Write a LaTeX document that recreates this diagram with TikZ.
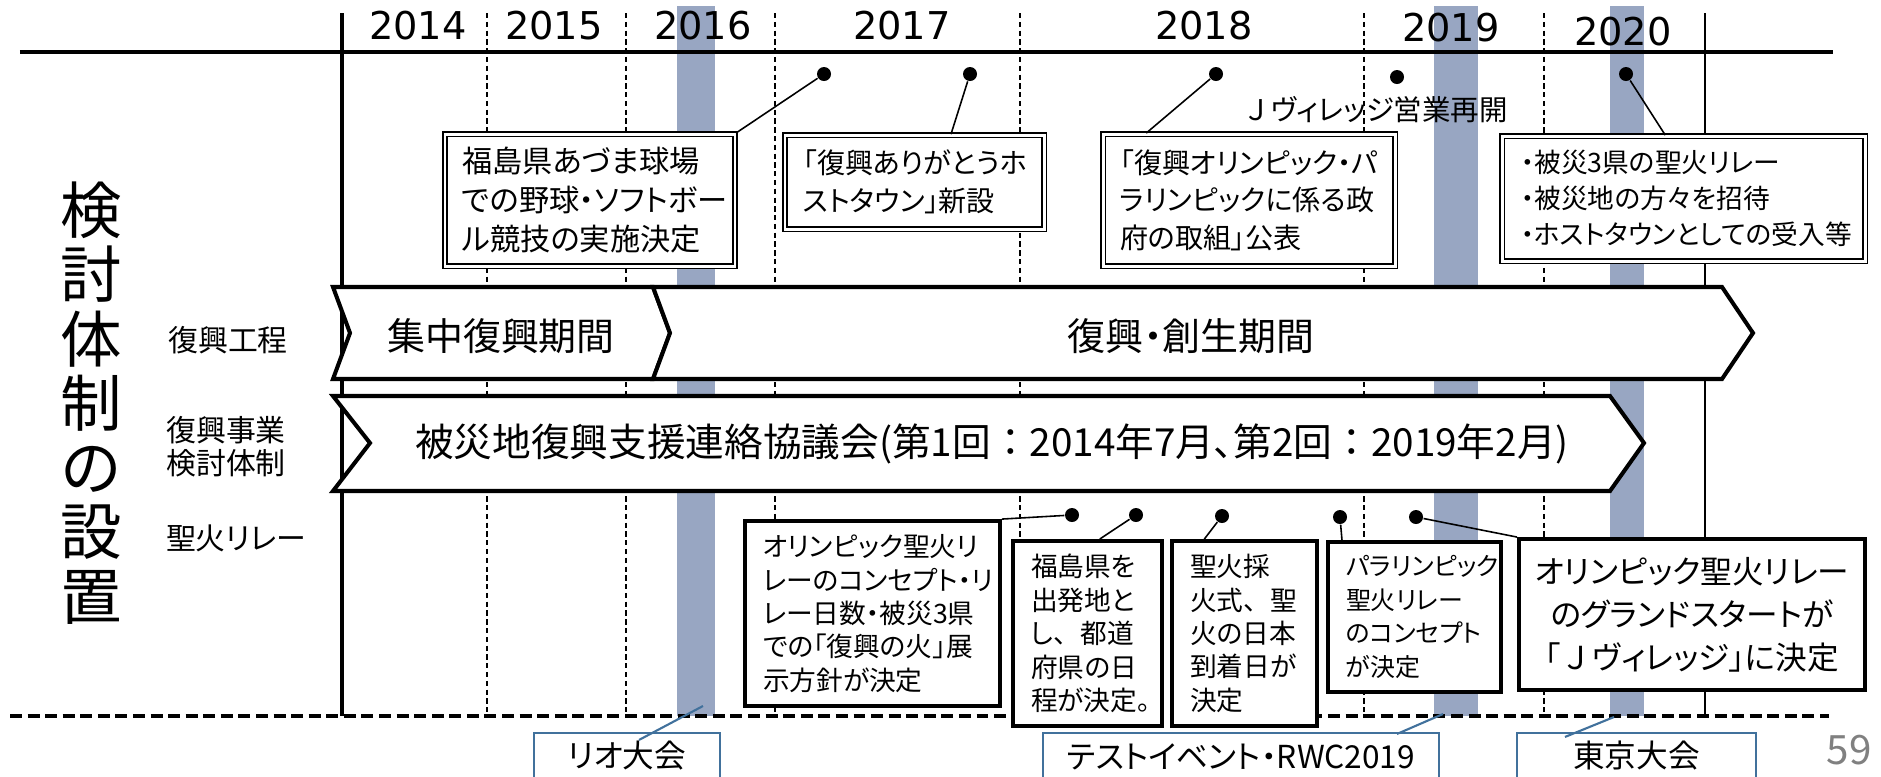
\documentclass[tikz,border=0pt]{standalone}
\usepackage{fontspec}
\setmainfont{Noto Sans CJK JP}[RawFeature=+palt]
\newfontfamily\fullw{Noto Sans CJK JP}
\newfontfamily\yearfont{DejaVu Sans}
\usepackage{tikz}
\usepackage{xcolor}
\usetikzlibrary{positioning, calc}
\definecolor{barblue}{RGB}{152,166,194}
\definecolor{evblue}{RGB}{65,113,156}

\begin{document}
\begin{tikzpicture}[
    dbox/.style={rectangle, draw=black, double, double distance=0.85pt, line width=0.5pt, fill=white, align=left, inner sep=0pt, font=\fontsize{8pt}{10.7pt}\selectfont},
    sbox/.style={rectangle, draw=black, line width=1.1pt, fill=white, align=left, inner sep=0pt, font=\fontsize{7.6pt}{9.5pt}\selectfont},
    ebox/.style={rectangle, draw=evblue, line width=0.6pt, fill=white, inner sep=0pt, font=\fontsize{9pt}{11pt}\selectfont},
    dot/.style={circle, fill=black, inner sep=0pt, minimum size=0.14cm},
    link/.style={line width=0.45pt},
    elink/.style={draw=evblue, line width=0.6pt},
    year/.style={font=\yearfont\fontsize{10.9pt}{13pt}\selectfont},
    period/.style={font=\fontsize{10.8pt}{12pt}\selectfont},
    rowlabel/.style={align=center, font=\fontsize{8.5pt}{9.4pt}\selectfont},
    chevron/.style={line width=1.15pt, fill=white, line join=miter},
    yearline/.style={line width=0.4pt, dash pattern=on 1.5pt off 1pt}
]
\useasboundingbox (0,0) rectangle (18.81,-7.76);
% olympic years
\fill [barblue] (6.77,-0.06) rectangle (7.15,-7.16);
\fill [barblue] (14.34,-0.06) rectangle (14.78,-7.16);
\fill [barblue] (16.10,-0.06) rectangle (16.44,-7.16);
% time axis
\draw [line width=1.3pt] (0.20,-0.52) -- (18.33,-0.52);
\draw [line width=0.9pt] (3.42,-0.13) -- (3.42,-7.16);
\draw [line width=0.4pt] (17.05,-0.13) -- (17.05,-7.16);
\draw [yearline] (4.87,-0.13) -- (4.87,-7.16);
\draw [yearline] (6.26,-0.13) -- (6.26,-7.16);
\draw [yearline] (7.75,-0.13) -- (7.75,-7.16);
\draw [yearline] (10.20,-0.13) -- (10.20,-7.16);
\draw [yearline] (13.64,-0.13) -- (13.64,-7.16);
\draw [yearline] (15.44,-0.13) -- (15.44,-7.16);
\draw [line width=1.2pt, dash pattern=on 3.4pt off 1.6pt] (0.10,-7.16) -- (18.29,-7.16);
\node (y14) [year] at (4.18,-0.26) {2014};
\node (y15) [year] at (5.54,-0.26) {2015};
\node (y16) [year] at (7.03,-0.26) {2016};
\node (y17) [year] at (9.02,-0.26) {2017};
\node (y18) [year] at (12.04,-0.26) {2018};
\node (y19) [year] at (14.51,-0.28) {2019};
\node (y20) [year] at (16.23,-0.32) {2020};
% row titles
\node (title) [align=center, font=\fontsize{17.5pt}{18.3pt}\selectfont] at (0.91,-4.03) {検\\討\\体\\制\\の\\設\\置};
\node (row1) [rowlabel] at (2.28,-3.40) {復興工程};
\node (row2) [rowlabel] at (2.26,-4.47) {復興事業\\検討体制};
\node (row3) [rowlabel] at (2.36,-5.38) {聖火リレー};
% periods
\draw [chevron] (3.33,-2.87) -- (6.53,-2.87) -- (6.70,-3.33) -- (6.53,-3.79) -- (3.33,-3.79) -- (3.50,-3.33) -- cycle;
\draw [chevron] (6.53,-2.87) -- (17.22,-2.87) -- (17.53,-3.33) -- (17.22,-3.79) -- (6.53,-3.79) -- (6.70,-3.33) -- cycle;
\draw [chevron] (3.33,-3.96) -- (16.10,-3.96) -- (16.44,-4.43) -- (16.10,-4.91) -- (3.33,-4.91) -- (3.70,-4.43) -- cycle;
\node (p1) [period] at (5.01,-3.36) {集中復興期間};
\node (p2) [period] at (11.91,-3.36) {復興・創生期間};
\node (p3) [period, font=\fontsize{11pt}{12pt}\selectfont] at (9.92,-4.44) {被災地復興支援連絡協議会(第1回{\fullw ：}2014年7月、第2回{\fullw ：}2019年2月)};
% upper events
\node (t1) [dbox, font=\fontsize{8.6pt}{11pt}\selectfont, minimum width=2.90cm, minimum height=1.32cm, text width=2.56cm] at (5.90,-2.00) {福島県あづま球場\\での野球・ソフトボー\\ル競技の実施決定};
\node (t2) [dbox, minimum width=2.59cm, minimum height=0.94cm, text width=2.23cm] at (9.145,-1.82) {「復興ありがとうホ\\ストタウン」新設};
\node (t3) [dbox, minimum width=2.92cm, minimum height=1.32cm, text width=2.58cm] at (12.49,-2.00) {「復興オリンピック・パ\\ラリンピックに係る政\\府の取組」公表};
\node (t4) [dbox, font=\fontsize{7.6pt}{10.2pt}\selectfont, minimum width=3.63cm, minimum height=1.25cm, text width=3.25cm] at (16.835,-1.985) {・被災3県の聖火リレー\\・被災地の方々を招待\\・ホストタウンとしての受入等};
\node (d1) [dot] at (8.24,-0.74) {};
\node (d2) [dot] at (9.70,-0.74) {};
\node (d3) [dot] at (12.16,-0.74) {};
\node (d4) [dot] at (13.97,-0.77) {};
\node (d5) [dot] at (16.26,-0.74) {};
\node (jv) [font=\fontsize{8.1pt}{10pt}\selectfont] at (13.75,-1.10) {{\fullw Ｊ}ヴィレッジ営業再開};
\draw [link] (d1) -- (t1.north east);
\draw [link] (d2) -- ($(t2.north west)!0.64!(t2.north east)$);
\draw [link] (d3) -- ($(t3.north west)!0.15!(t3.north east)$);
\draw [link] (d5) -- ($(t4.north west)!0.45!(t4.north east)$);
% torch relay
\node (r1) [sbox, minimum width=2.55cm, minimum height=1.85cm, text width=2.19cm] at (8.725,-6.135) {オリンピック聖火リ\\レーのコンセプト・リ\\レー日数・被災3県\\での「復興の火」展\\示方針が決定};
\node (r2) [sbox, minimum width=1.49cm, minimum height=1.85cm, text width=1.13cm] at (10.875,-6.335) {福島県を\\出発地と\\し{\fullw 、}都道\\府県の日\\程が決定。};
\node (r3) [sbox, minimum width=1.45cm, minimum height=1.85cm, text width=1.09cm] at (12.445,-6.335) {聖火採\\火式{\fullw 、}聖\\火の日本\\到着日が\\決定};
\node (r4) [sbox, font=\fontsize{7.1pt}{9.5pt}\selectfont, minimum width=1.73cm, minimum height=1.50cm, text width=1.37cm] at (14.145,-6.17) {パラリンピック\\聖火リレー\\のコンセプト\\が決定};
\node (r5) [sbox, align=center, minimum width=3.46cm, minimum height=1.51cm, font=\fontsize{9pt}{12.2pt}\selectfont] at (16.92,-6.145) {オリンピック聖火リレー\\のグランドスタートが\\「{\fullw Ｊ}ヴィレッジ」に決定};
\node (e1) [dot] at (10.72,-5.15) {};
\node (e2) [dot] at (11.36,-5.15) {};
\node (e3) [dot] at (12.22,-5.16) {};
\node (e4) [dot] at (13.40,-5.17) {};
\node (e5) [dot] at (14.16,-5.17) {};
\draw [link] (e1) -- (r1.north east);
\draw [link] (e2) -- ($(r2.north west)!0.58!(r2.north east)$);
\draw [link] (e3) -- ($(r3.north west)!0.23!(r3.north east)$);
\draw [link] (e4) -- ($(r4.north west)!0.09!(r4.north east)$);
\draw [link] (e5) -- (r5.north west);
% games
\node (rio) [ebox, minimum width=1.86cm, minimum height=0.46cm] at (6.27,-7.56) {リオ大会};
\node (test) [ebox, minimum width=3.96cm, minimum height=0.48cm] at (12.41,-7.57) {テストイベント・RWC2019};
\node (tokyo) [ebox, minimum width=2.39cm, minimum height=0.46cm] at (16.365,-7.56) {東京大会};
\coordinate (rio top) at (7.03,-7.06);
\coordinate (test top) at (14.43,-7.14);
\coordinate (tokyo top) at (16.14,-7.17);
\draw [elink] (rio top) -- ($(rio.north)+(0.12,-0.08)$);
\draw [elink] (test top) -- ($(test.north)+(1.56,-0.02)$);
\draw [elink] (tokyo top) -- ($(tokyo.north)+(-0.715,-0.05)$);
\node (page) [text=gray, font=\fontsize{11.5pt}{13pt}\selectfont] at (18.49,-7.50) {59};
\end{tikzpicture}
\end{document}
